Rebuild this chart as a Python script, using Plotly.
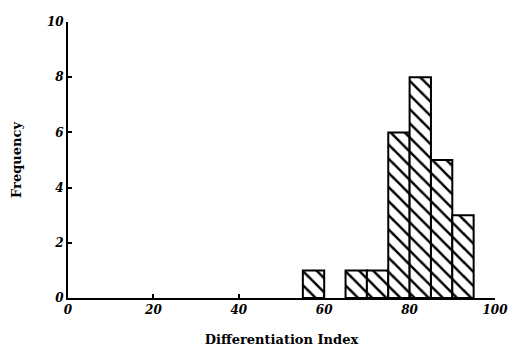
import plotly.graph_objects as go

bin_left = [55, 65, 70, 75, 80, 85, 90]
counts = [1, 1, 1, 6, 8, 5, 3]
bin_width = 5
x_ticks = [0, 20, 40, 60, 80, 100]
y_ticks = [0, 2, 4, 6, 8, 10]

centers = [b + bin_width / 2 for b in bin_left]

fig = go.Figure(go.Bar(
    x=centers, y=counts, width=[bin_width] * len(centers),
    marker=dict(color="white",
                line=dict(color="black", width=2),
                pattern=dict(shape="\\", fgcolor="black", bgcolor="white",
                             fgopacity=1, size=10, solidity=0.25)),
))

font_family = "DejaVu Serif"
fig.update_layout(
    width=520, height=357,
    margin=dict(l=68, r=18, t=22, b=59),
    paper_bgcolor="white", plot_bgcolor="white",
    showlegend=False,
    font=dict(family=font_family, color="black"),
    xaxis=dict(range=[0, 100], tickvals=x_ticks,
               ticktext=[f"<b><i>{v}</i></b>" for v in x_ticks],
               ticks="inside", ticklen=4, tickwidth=2, tickcolor="black",
               showline=True, linecolor="black", linewidth=2,
               showgrid=False, zeroline=False,
               tickfont=dict(size=12, family=font_family),
               title=dict(text="<b>Differentiation Index</b>",
                          font=dict(size=13, family=font_family), standoff=18)),
    yaxis=dict(range=[0, 10], tickvals=y_ticks,
               ticktext=[f"<b><i>{v}</i></b>" for v in y_ticks],
               ticks="inside", ticklen=4, tickwidth=2, tickcolor="black",
               showline=True, linecolor="black", linewidth=2,
               showgrid=False, zeroline=False,
               tickfont=dict(size=12, family=font_family),
               title=dict(text="<b>Frequency</b>",
                          font=dict(size=13, family=font_family), standoff=22)),
)

fig.write_html("out.html")
